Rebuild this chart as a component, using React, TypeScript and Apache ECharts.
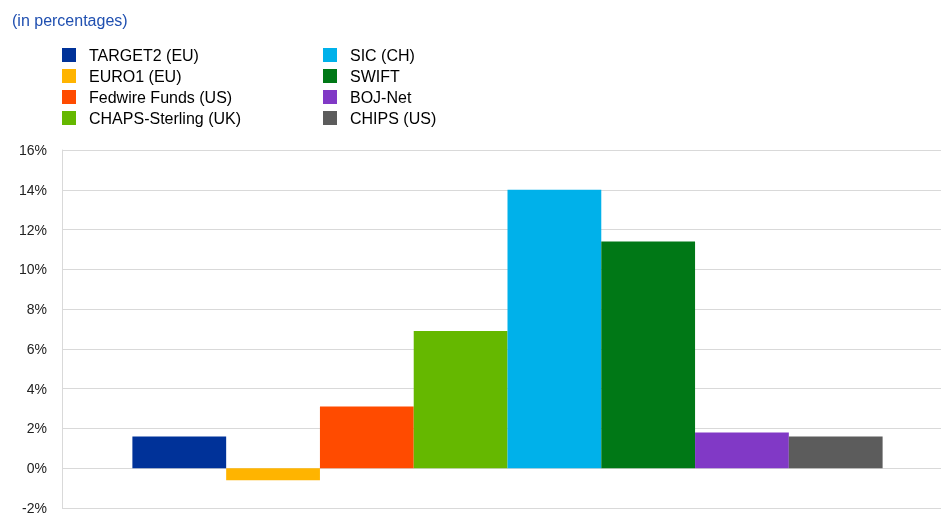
import React, { useEffect, useRef } from "react";
import * as echarts from "echarts";

const seriesNames = [
  "TARGET2 (EU)",
  "EURO1 (EU)",
  "Fedwire Funds (US)",
  "CHAPS-Sterling (UK)",
  "SIC (CH)",
  "SWIFT",
  "BOJ-Net",
  "CHIPS (US)",
];
const seriesValues = [1.6, -0.6, 3.1, 6.9, 14.0, 11.4, 1.8, 1.6];
const seriesColors = [
  "#003299",
  "#FFB400",
  "#FF4B00",
  "#65B800",
  "#00B1EA",
  "#007816",
  "#8139C6",
  "#5C5C5C",
];
const categories = [""];

export default function App() {
  const ref = useRef<HTMLDivElement>(null);
  useEffect(() => {
    if (!ref.current) return;
    const chart = echarts.init(ref.current, null, { renderer: "svg" });
    const legendCommon = {
      orient: "vertical",
      top: 42,
      itemWidth: 14,
      itemHeight: 14,
      itemGap: 5,
      icon: "rect",
      selectedMode: false,
      textStyle: {
        fontFamily: "Liberation Sans, Arial, sans-serif",
        fontSize: 16,
        lineHeight: 16,
        color: "#000",
        padding: [0, 0, 0, 8],
      },
    };
    chart.setOption({
      animation: false,
      title: {
        text: "(in percentages)",
        left: 7,
        top: 7,
        textStyle: {
          fontFamily: "Liberation Sans, Arial, sans-serif",
          fontSize: 16,
          fontWeight: "normal",
          color: "#1f4fb0",
        },
      },
      legend: [
        { ...legendCommon, left: 57, data: seriesNames.slice(0, 4) },
        { ...legendCommon, left: 318, data: seriesNames.slice(4) },
      ],
      grid: {
        left: 62,
        width: 891,
        top: 150,
        bottom: 18,
        containLabel: false,
        outerBoundsMode: "none",
      },
      xAxis: {
        type: "category",
        data: categories,
        axisLine: { show: false },
        axisTick: { show: false },
        axisLabel: { show: false },
      },
      yAxis: {
        type: "value",
        min: -2,
        max: 16,
        interval: 2,
        axisLine: { show: true, lineStyle: { color: "#d9d9d9", width: 1 } },
        axisTick: { show: false },
        splitLine: { show: true, lineStyle: { color: "#d9d9d9", width: 1 } },
        axisLabel: {
          formatter: "{value}%",
          margin: 15,
          fontFamily: "Liberation Sans, Arial, sans-serif",
          fontSize: 14,
          color: "#222",
        },
      },
      series: seriesNames.map((name, i) => ({
        name,
        type: "bar",
        data: [seriesValues[i]],
        itemStyle: { color: seriesColors[i] },
        barGap: "0%",
        barCategoryGap: "15.8%",
      })),
    });
    return () => chart.dispose();
  }, []);
  return (
    <div
      ref={ref}
      style={{ position: "fixed", left: 0, top: 0, width: 941, height: 526 }}
    />
  );
}
